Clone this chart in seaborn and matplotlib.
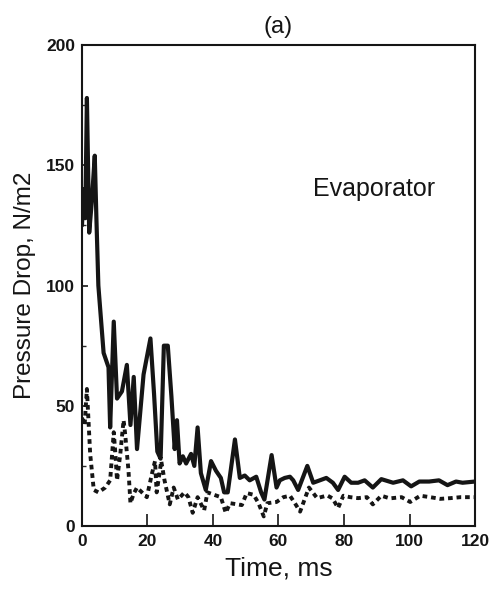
import numpy as np
import pandas as pd
import matplotlib
matplotlib.use("Agg")
import matplotlib.pyplot as plt
from matplotlib.ticker import MultipleLocator
import seaborn as sns

# Solid curve: time (ms) and pressure drop (N/m2)
solid_t = [0, 0.5, 1.0, 1.5, 2.2, 3.0, 3.9, 4.4, 5.0, 6.6, 8.1, 8.6, 9.7, 10.7,
           12.2, 13.7, 14.8, 15.8, 16.8, 18.8, 20.9, 22.0, 23.0, 24.0, 25.0, 26.2,
           27.3, 28.3, 29.0, 29.8, 30.8, 31.8, 33.3, 34.3, 35.3, 36.3, 37.8, 39.4,
           40.9, 42.4, 43.4, 44.5, 46.7, 48.2, 49.7, 51.2, 53.2, 54.7, 55.7, 57.9,
           59.4, 60.4, 61.9, 63.5, 64.5, 66.0, 68.8, 70.6, 72.6, 74.6, 76.6, 78.2,
           80.2, 82.2, 84.3, 86.3, 88.8, 91.4, 95.0, 98.0, 100.5, 103.0, 106.0,
           109.0, 111.6, 114.2, 116.2, 120.0]
solid_p = [125, 140, 128, 178, 122, 135, 154, 128, 100, 72, 66, 41, 85, 53,
           56, 67, 42, 62, 32, 63, 78, 55, 31, 28, 75, 75,
           54, 32, 44, 26, 29, 26, 30, 25, 41, 22, 15, 27,
           23, 20, 14, 14, 36, 20, 21, 19, 20.5, 14, 11, 29.5,
           16, 19, 20, 20.5, 19, 15, 25, 18, 19, 20, 18, 15,
           20.5, 18, 18, 19, 16, 19.5, 18, 19, 16.5, 18.5, 18.5,
           19, 17, 18.5, 18, 18.5]

# Dashed curve
dash_t = [0, 0.8, 1.5, 2.5, 3.6, 5.0, 7.1, 8.6, 9.7, 10.2, 10.7, 11.7, 12.7,
          13.2, 14.2, 14.8, 15.8, 16.8, 18.3, 19.8, 21.4, 22.3, 22.8, 24.2, 25.2,
          26.8, 28.0, 29.3, 31.3, 32.5, 33.8, 35.3, 37.3, 38.3, 40.3, 42.4, 43.9,
          45.2, 48.8, 50.3, 52.4, 53.9, 55.5, 56.6, 59.4, 61.5, 63.5, 65.0, 66.6,
          69.3, 71.8, 74.9, 76.5, 78.2, 79.8, 81.9, 84.3, 87.0, 88.8, 91.4, 94.0,
          97.6, 100.2, 103.3, 106.3, 109.4, 112.5, 115.6, 120.0]
dash_p = [45, 42, 57, 30, 15, 14, 16, 19, 39, 30, 19, 30, 44,
          38, 23, 9.5, 13.5, 16, 14, 12, 22, 27, 14, 27, 19,
          9, 16, 11, 14, 12, 5.5, 12, 6.5, 14, 13, 12, 5.5,
          9.5, 8.7, 13.7, 13, 9.5, 4, 9.5, 10, 12, 12.6, 9.5, 6,
          16, 11.6, 12.7, 11.5, 7.5, 12.6, 12, 11.6, 12, 9, 12.6, 11.5,
          12, 10, 12.6, 12, 11.3, 11.6, 12, 12]

x_ticks = [0, 20, 40, 60, 80, 100, 120]
y_ticks = [0, 50, 100, 150, 200]

sns.set_style("ticks")
plt.rcParams["font.family"] = ["Liberation Sans", "DejaVu Sans"]

fig = plt.figure(figsize=(4.93, 5.96), dpi=100)
ax = fig.add_axes([0.1663, 0.1174, 0.7972, 0.8070])

solid_df = pd.DataFrame({"t": solid_t, "p": solid_p})
dash_df = pd.DataFrame({"t": dash_t, "p": dash_p})

sns.lineplot(data=solid_df, x="t", y="p", ax=ax, color="#151515",
             linewidth=3.0, sort=False, estimator=None)
sns.lineplot(data=dash_df, x="t", y="p", ax=ax, color="#151515",
             linewidth=2.8, sort=False, estimator=None,
             linestyle=(0, (1.2, 1.0)))

ax.set_xlim(0, 120)
ax.set_ylim(0, 200)
ax.set_xticks(x_ticks)
ax.set_yticks(y_ticks)
ax.yaxis.set_minor_locator(MultipleLocator(25))
ax.set_xticklabels([str(v) for v in x_ticks], fontsize=12.5, fontweight="bold")
ax.set_yticklabels([str(v) for v in y_ticks], fontsize=12.5, fontweight="bold")
ax.tick_params(axis="x", which="major", direction="in", length=9, width=1.2,
               pad=6, colors="#151515")
ax.tick_params(axis="y", which="major", direction="in", length=4, width=1.2,
               pad=5, colors="#151515")
ax.tick_params(axis="y", which="minor", direction="in", length=3, width=1.0)

for side in ["left", "right", "top", "bottom"]:
    ax.spines[side].set_visible(True)
    ax.spines[side].set_linewidth(1.5)
    ax.spines[side].set_color("#151515")

ax.set_xlabel("Time, ms", fontsize=19, labelpad=5, color="#151515")
ax.set_ylabel("Pressure Drop, N/m2", fontsize=17.5, labelpad=7, color="#151515")
ax.set_title("(a)", fontsize=17, pad=9, color="#151515")

ax.text(70.5, 140, "Evaporator", fontsize=18, ha="left", va="center",
        color="#151515")

fig.savefig("out.png", dpi=100)
